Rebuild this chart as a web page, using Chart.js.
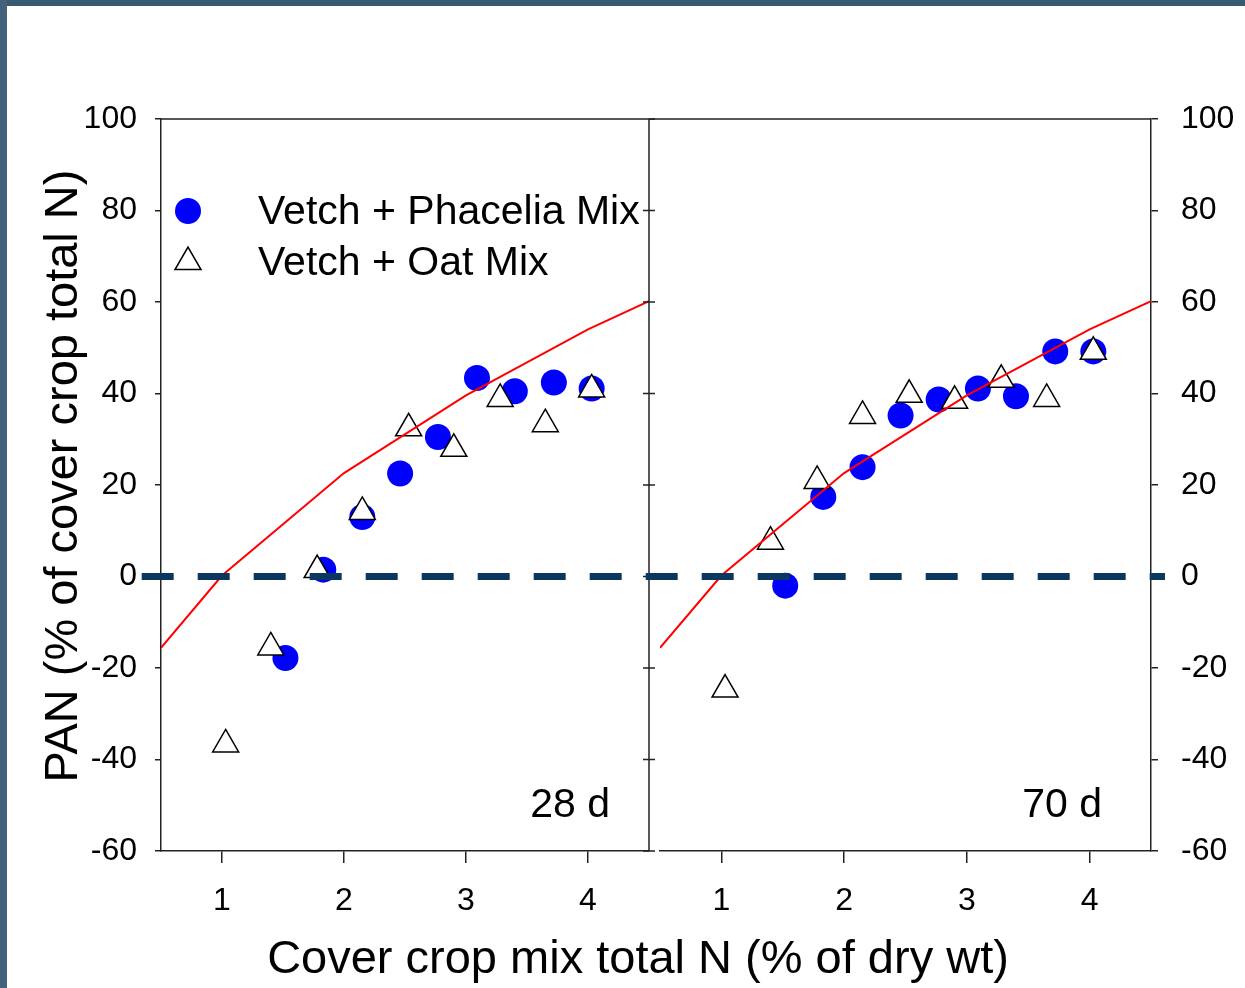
<!DOCTYPE html>
<html><head><meta charset="utf-8">
<script src="https://cdn.jsdelivr.net/npm/chart.js@4.4.0/dist/chart.umd.min.js"></script>
<style>
html,body{margin:0;padding:0;background:#fff;}
#wrap{position:relative;width:1245px;height:988px;overflow:hidden;background:#fff;}
#wrap canvas{position:absolute;left:0;top:0;}
.edgeL{position:absolute;left:0;top:0;width:7px;height:988px;background:#41627a;}
.edgeT{position:absolute;left:0;top:0;width:1245px;height:6px;background:#385a70;}
</style></head><body>
<div id="wrap">
<canvas id="c28" width="1245" height="988"></canvas>
<canvas id="c70" width="1245" height="988"></canvas>
<div class="edgeT"></div><div class="edgeL"></div>
</div>
<script>
// ---- data ----
const xTicks = [1, 2, 3, 4];
const yTicks = [-60, -40, -20, 0, 20, 40, 60, 80, 100];
const phaceliaX = [1.52, 1.83, 2.15, 2.46, 2.77, 3.09, 3.40, 3.72, 4.03];
const oatX      = [1.03, 1.40, 1.78, 2.15, 2.53, 2.90, 3.28, 3.65, 4.03];
const phacelia28 = [-17.8, 1.5, 13.0, 22.5, 30.5, 43.4, 40.5, 42.4, 41.1];
const oat28      = [-36.7, -15.5, 1.4, 14.1, 32.4, 27.9, 38.8, 33.3, 40.9];
const phacelia70 = [-2.0, 17.4, 23.9, 35.2, 38.7, 41.1, 39.4, 49.2, 49.2];
const oat70      = [-24.7, 7.6, 20.9, 35.1, 39.7, 38.4, 43.0, 38.8, 49.1];
const fitX = [0.5, 1, 2, 3, 4, 4.5];
const fitY = [-15.6, 0.2, 22.6, 39.6, 54.0, 60.2];
const seriesNames = ['Vetch + Phacelia Mix', 'Vetch + Oat Mix'];
const panelNames = ['28 d', '70 d'];
const xTitle = 'Cover crop mix total N (% of dry wt)';
const yTitle = 'PAN (% of cover crop total N)';

const FAM = "'Liberation Sans', Arial, sans-serif";
const AX = '#222';
const pts = (xs, ys) => xs.map((x, i) => ({x, y: ys[i]}));

function makeDatasets(phY, oatY) {
  return [
    {label: 'fit', data: pts(fitX, fitY), showLine: true, borderColor: '#ff0000', borderWidth: 2,
     pointRadius: 0, order: 0, fill: false},
    {label: seriesNames[1], data: pts(oatX, oatY), pointStyle: 'triangle', pointRadius: 15,
     backgroundColor: '#ffffff', borderColor: '#000000', borderWidth: 1.5, order: 1, legend: true},
    {label: seriesNames[0], data: pts(phaceliaX, phY), pointStyle: 'circle', pointRadius: 13,
     backgroundColor: '#0000ff', borderColor: '#0000ff', borderWidth: 0, order: 2, legend: true}
  ];
}

const framePlugin = {
  id: 'frame',
  afterDraw(chart, args, o) {
    const {ctx, chartArea: a} = chart;
    const ys = chart.scales.y;
    ctx.save();
    ctx.strokeStyle = AX; ctx.lineWidth = 1.5;
    ctx.beginPath();
    ctx.moveTo(a.left - (o.topExtendLeft || 0), a.top); ctx.lineTo(a.right, a.top);
    if (o.rightLine) {
      ctx.moveTo(a.right, a.top); ctx.lineTo(a.right, a.bottom);
      yTicks.forEach(v => { const p = ys.getPixelForValue(v); ctx.moveTo(a.right - 6, p); ctx.lineTo(a.right + 6, p); });
    }
    ctx.stroke();
    // panel label
    ctx.fillStyle = '#000';
    ctx.font = '41px ' + FAM;
    ctx.textAlign = 'right'; ctx.textBaseline = 'alphabetic';
    ctx.fillText(o.label, a.right - o.labelDx, o.labelY);
    ctx.restore();
  }
};

const legendPlugin = {
  id: 'boxLegend',
  afterDraw(chart, args, o) {
    if (!o.show) return;
    const {ctx} = chart;
    const items = chart.data.datasets.filter(d => d.legend).sort((p, q) => q.order - p.order);
    ctx.save();
    items.forEach((d, i) => {
      const y = o.y0 + i * o.dy;
      ctx.fillStyle = d.backgroundColor; ctx.strokeStyle = d.borderColor; ctx.lineWidth = d.borderWidth;
      Chart.helpers.drawPoint(ctx, {pointStyle: d.pointStyle, radius: d.pointRadius, rotation: 0, borderWidth: d.borderWidth},
        o.markerX, y);
      ctx.fillStyle = '#000'; ctx.font = '41px ' + FAM;
      ctx.textAlign = 'left'; ctx.textBaseline = 'middle';
      ctx.fillText(d.label, o.textX, y + 2);
    });
    ctx.restore();
  }
};

const titlePlugin = {
  id: 'titles',
  afterDraw(chart, args, o) {
    if (!o.show) return;
    const {ctx} = chart;
    ctx.save();
    ctx.fillStyle = '#000'; ctx.font = '47px ' + FAM; ctx.textBaseline = 'alphabetic'; ctx.textAlign = 'center';
    ctx.fillText(xTitle, 638, 973);
    ctx.translate(77, 476); ctx.rotate(-Math.PI / 2);
    ctx.fillText(yTitle, 0, 0);
    ctx.restore();
  }
};

const zeroLinePlugin = {
  id: 'zeroLine',
  afterDraw(chart, args, o) {
    if (!o.show) return;
    const {ctx} = chart;
    const y = chart.scales.y.getPixelForValue(0);
    ctx.save();
    ctx.strokeStyle = '#0c375f'; ctx.lineWidth = 7; ctx.setLineDash([32, 24]); ctx.lineCap = 'butt';
    ctx.beginPath(); ctx.moveTo(o.x0, y); ctx.lineTo(o.x1, y); ctx.stroke();
    ctx.restore();
  }
};

function makeChart(id, phY, oatY, side) {
  const left = side === 'left';
  return new Chart(document.getElementById(id), {
    type: 'scatter',
    data: {datasets: makeDatasets(phY, oatY)},
    plugins: [framePlugin, legendPlugin, titlePlugin, zeroLinePlugin],
    options: {
      responsive: false, animation: false, events: [], devicePixelRatio: 1,
      layout: {padding: left ? {left: 0, top: 119, right: 596, bottom: 0} : {left: 660, top: 119, right: 0, bottom: 0}},
      plugins: {
        legend: {display: false}, tooltip: {enabled: false},
        frame: {rightLine: left, topExtendLeft: left ? 0 : 11, label: left ? panelNames[0] : panelNames[1],
                labelDx: left ? 39 : 49, labelY: 817},
        boxLegend: {show: left, markerX: 188, textX: 258, y0: 211, dy: 51},
        titles: {show: left},
        zeroLine: {show: !left, x0: 141.7, x1: 1165}
      },
      scales: {
        x: {
          type: 'linear', position: 'bottom', min: 0.5, max: 4.5,
          afterBuildTicks: s => { s.ticks = xTicks.map(v => ({value: v})); },
          afterFit: s => { s.height = 137; },
          grid: {drawOnChartArea: false, drawTicks: true, tickLength: 12, color: AX, lineWidth: 1.5},
          border: {display: true, color: AX, width: 1.5},
          ticks: {font: {size: 32, family: FAM}, color: '#000', padding: 19, maxRotation: 0, autoSkip: false}
        },
        y: {
          type: 'linear', position: left ? 'left' : 'right', min: -60, max: 100,
          afterBuildTicks: s => { s.ticks = yTicks.map(v => ({value: v})); },
          afterFit: s => { s.width = left ? 161 : 94; },
          grid: {drawOnChartArea: false, drawTicks: true, tickLength: left ? 6 : 7, color: AX, lineWidth: 1.5},
          border: {display: true, color: AX, width: 1.5},
          ticks: {font: {size: 32, family: FAM}, color: '#000', padding: left ? 18 : 23, autoSkip: false}
        }
      }
    }
  });
}

makeChart('c28', phacelia28, oat28, 'left');
makeChart('c70', phacelia70, oat70, 'right');
</script>
</body></html>
